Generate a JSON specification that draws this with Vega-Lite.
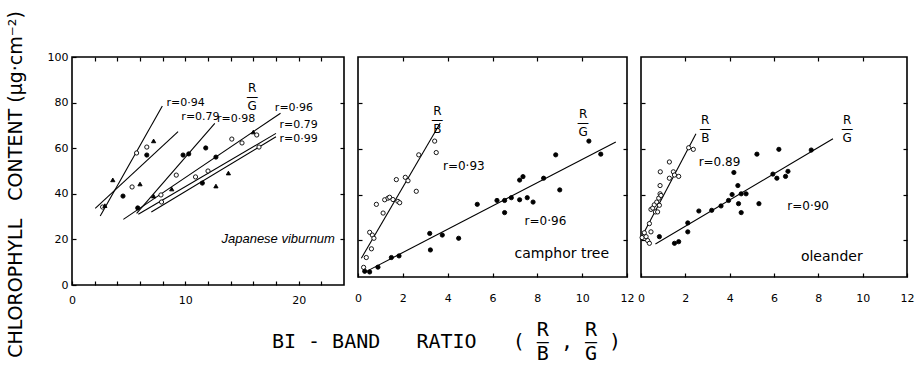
{
  "$schema": "https://vega.github.io/schema/vega-lite/v6.json",
  "background": "white",
  "padding": {"left": 5, "top": 9, "right": 5, "bottom": 2},
  "config": {
    "view": {"stroke": "black", "strokeWidth": 1.6},
    "font": "DejaVu Sans",
    "axis": {"domain": false, "grid": false, "tickColor": "black", "labelColor": "black", "labelFont": "DejaVu Sans", "labelFontSize": 11, "tickSize": -4, "tickWidth": 1.2, "labelPadding": 8, "labelOverlap": false, "labelFlush": false, "titleColor": "black"}
  },
  "spacing": 14,
  "bounds": "flush",
  "datasets": {
    "pts": [
      {"panel": "A", "x": 3.6, "y": 46.1, "m": "tri"},
      {"panel": "A", "x": 2.7, "y": 34.2, "m": "open"},
      {"panel": "A", "x": 2.9, "y": 34.8, "m": "tri"},
      {"panel": "A", "x": 4.5, "y": 39.0, "m": "filled"},
      {"panel": "A", "x": 5.3, "y": 43.0, "m": "open"},
      {"panel": "A", "x": 6.0, "y": 44.3, "m": "tri"},
      {"panel": "A", "x": 5.7, "y": 57.9, "m": "open"},
      {"panel": "A", "x": 6.6, "y": 60.5, "m": "open"},
      {"panel": "A", "x": 6.6, "y": 57.0, "m": "filled"},
      {"panel": "A", "x": 7.2, "y": 63.2, "m": "tri"},
      {"panel": "A", "x": 5.8, "y": 33.8, "m": "filled"},
      {"panel": "A", "x": 7.2, "y": 39.0, "m": "tri"},
      {"panel": "A", "x": 7.85, "y": 39.5, "m": "open"},
      {"panel": "A", "x": 8.8, "y": 42.1, "m": "tri"},
      {"panel": "A", "x": 7.9, "y": 36.4, "m": "open"},
      {"panel": "A", "x": 9.2, "y": 48.2, "m": "open"},
      {"panel": "A", "x": 9.8, "y": 57.0, "m": "filled"},
      {"panel": "A", "x": 10.3, "y": 57.5, "m": "filled"},
      {"panel": "A", "x": 11.8, "y": 60.1, "m": "filled"},
      {"panel": "A", "x": 10.9, "y": 47.4, "m": "open"},
      {"panel": "A", "x": 12.0, "y": 50.0, "m": "open"},
      {"panel": "A", "x": 11.5, "y": 44.7, "m": "filled"},
      {"panel": "A", "x": 12.7, "y": 43.4, "m": "tri"},
      {"panel": "A", "x": 12.7, "y": 56.1, "m": "filled"},
      {"panel": "A", "x": 13.8, "y": 49.1, "m": "tri"},
      {"panel": "A", "x": 14.1, "y": 64.0, "m": "open"},
      {"panel": "A", "x": 15.0, "y": 62.3, "m": "open"},
      {"panel": "A", "x": 16.0, "y": 67.1, "m": "tri"},
      {"panel": "A", "x": 16.3, "y": 65.8, "m": "open"},
      {"panel": "A", "x": 16.5, "y": 60.5, "m": "open"},

      {"panel": "B", "x": 0.25, "y": 8.2, "m": "open"},
      {"panel": "B", "x": 0.37, "y": 12.5, "m": "open"},
      {"panel": "B", "x": 0.6, "y": 16.3, "m": "open"},
      {"panel": "B", "x": 0.52, "y": 23.5, "m": "open"},
      {"panel": "B", "x": 0.64, "y": 22.3, "m": "open"},
      {"panel": "B", "x": 0.71, "y": 20.9, "m": "open"},
      {"panel": "B", "x": 0.82, "y": 35.7, "m": "open"},
      {"panel": "B", "x": 1.12, "y": 31.9, "m": "open"},
      {"panel": "B", "x": 1.19, "y": 37.7, "m": "open"},
      {"panel": "B", "x": 1.34, "y": 38.4, "m": "open"},
      {"panel": "B", "x": 1.41, "y": 38.8, "m": "open"},
      {"panel": "B", "x": 1.56, "y": 37.8, "m": "open"},
      {"panel": "B", "x": 1.71, "y": 46.5, "m": "open"},
      {"panel": "B", "x": 1.78, "y": 37.0, "m": "open"},
      {"panel": "B", "x": 1.86, "y": 36.4, "m": "open"},
      {"panel": "B", "x": 2.11, "y": 47.5, "m": "open"},
      {"panel": "B", "x": 2.23, "y": 46.0, "m": "open"},
      {"panel": "B", "x": 2.6, "y": 41.4, "m": "open"},
      {"panel": "B", "x": 2.71, "y": 57.3, "m": "open"},
      {"panel": "B", "x": 3.42, "y": 63.3, "m": "open"},
      {"panel": "B", "x": 3.49, "y": 58.3, "m": "open"},
      {"panel": "B", "x": 0.3, "y": 6.5, "m": "filled"},
      {"panel": "B", "x": 0.52, "y": 6.2, "m": "filled"},
      {"panel": "B", "x": 0.89, "y": 8.3, "m": "filled"},
      {"panel": "B", "x": 1.49, "y": 12.5, "m": "filled"},
      {"panel": "B", "x": 1.83, "y": 13.2, "m": "filled"},
      {"panel": "B", "x": 3.2, "y": 23.0, "m": "filled"},
      {"panel": "B", "x": 3.23, "y": 15.8, "m": "filled"},
      {"panel": "B", "x": 3.76, "y": 22.3, "m": "filled"},
      {"panel": "B", "x": 4.49, "y": 20.9, "m": "filled"},
      {"panel": "B", "x": 5.32, "y": 35.7, "m": "filled"},
      {"panel": "B", "x": 6.2, "y": 37.4, "m": "filled"},
      {"panel": "B", "x": 6.54, "y": 37.4, "m": "filled"},
      {"panel": "B", "x": 6.54, "y": 32.1, "m": "filled"},
      {"panel": "B", "x": 6.84, "y": 38.6, "m": "filled"},
      {"panel": "B", "x": 7.21, "y": 46.3, "m": "filled"},
      {"panel": "B", "x": 7.36, "y": 47.8, "m": "filled"},
      {"panel": "B", "x": 7.21, "y": 37.7, "m": "filled"},
      {"panel": "B", "x": 7.55, "y": 38.6, "m": "filled"},
      {"panel": "B", "x": 7.81, "y": 36.7, "m": "filled"},
      {"panel": "B", "x": 8.28, "y": 47.1, "m": "filled"},
      {"panel": "B", "x": 8.82, "y": 57.3, "m": "filled"},
      {"panel": "B", "x": 9.0, "y": 42.0, "m": "filled"},
      {"panel": "B", "x": 10.3, "y": 63.3, "m": "filled"},
      {"panel": "B", "x": 10.83, "y": 57.6, "m": "filled"},

      {"panel": "C", "x": 0.05, "y": 21.2, "m": "open"},
      {"panel": "C", "x": 0.15, "y": 23.3, "m": "open"},
      {"panel": "C", "x": 0.23, "y": 21.6, "m": "open"},
      {"panel": "C", "x": 0.3, "y": 19.9, "m": "open"},
      {"panel": "C", "x": 0.38, "y": 18.7, "m": "open"},
      {"panel": "C", "x": 0.45, "y": 23.7, "m": "open"},
      {"panel": "C", "x": 0.38, "y": 27.3, "m": "open"},
      {"panel": "C", "x": 0.45, "y": 33.5, "m": "open"},
      {"panel": "C", "x": 0.53, "y": 34.1, "m": "open"},
      {"panel": "C", "x": 0.6, "y": 35.5, "m": "open"},
      {"panel": "C", "x": 0.65, "y": 32.4, "m": "open"},
      {"panel": "C", "x": 0.71, "y": 36.7, "m": "open"},
      {"panel": "C", "x": 0.8, "y": 38.4, "m": "open"},
      {"panel": "C", "x": 0.86, "y": 40.3, "m": "open"},
      {"panel": "C", "x": 0.75, "y": 32.4, "m": "open"},
      {"panel": "C", "x": 0.83, "y": 35.3, "m": "open"},
      {"panel": "C", "x": 0.9, "y": 39.6, "m": "open"},
      {"panel": "C", "x": 0.86, "y": 43.9, "m": "open"},
      {"panel": "C", "x": 0.87, "y": 49.9, "m": "open"},
      {"panel": "C", "x": 1.28, "y": 54.2, "m": "open"},
      {"panel": "C", "x": 1.28, "y": 47.1, "m": "open"},
      {"panel": "C", "x": 1.46, "y": 49.9, "m": "open"},
      {"panel": "C", "x": 1.51, "y": 48.5, "m": "open"},
      {"panel": "C", "x": 1.7, "y": 47.9, "m": "open"},
      {"panel": "C", "x": 2.15, "y": 60.4, "m": "open"},
      {"panel": "C", "x": 2.36, "y": 59.7, "m": "open"},
      {"panel": "C", "x": 0.83, "y": 21.6, "m": "filled"},
      {"panel": "C", "x": 1.51, "y": 18.7, "m": "filled"},
      {"panel": "C", "x": 1.7, "y": 19.4, "m": "filled"},
      {"panel": "C", "x": 2.11, "y": 23.7, "m": "filled"},
      {"panel": "C", "x": 2.11, "y": 27.6, "m": "filled"},
      {"panel": "C", "x": 2.61, "y": 32.8, "m": "filled"},
      {"panel": "C", "x": 3.19, "y": 33.1, "m": "filled"},
      {"panel": "C", "x": 3.61, "y": 35.0, "m": "filled"},
      {"panel": "C", "x": 3.95, "y": 37.4, "m": "filled"},
      {"panel": "C", "x": 4.11, "y": 40.0, "m": "filled"},
      {"panel": "C", "x": 4.19, "y": 49.6, "m": "filled"},
      {"panel": "C", "x": 4.37, "y": 43.9, "m": "filled"},
      {"panel": "C", "x": 4.4, "y": 36.0, "m": "filled"},
      {"panel": "C", "x": 4.52, "y": 32.1, "m": "filled"},
      {"panel": "C", "x": 4.52, "y": 40.3, "m": "filled"},
      {"panel": "C", "x": 4.74, "y": 40.3, "m": "filled"},
      {"panel": "C", "x": 5.23, "y": 57.6, "m": "filled"},
      {"panel": "C", "x": 5.32, "y": 36.0, "m": "filled"},
      {"panel": "C", "x": 5.95, "y": 48.9, "m": "filled"},
      {"panel": "C", "x": 6.13, "y": 47.1, "m": "filled"},
      {"panel": "C", "x": 6.22, "y": 59.7, "m": "filled"},
      {"panel": "C", "x": 6.52, "y": 47.9, "m": "filled"},
      {"panel": "C", "x": 6.63, "y": 50.1, "m": "filled"},
      {"panel": "C", "x": 7.68, "y": 59.4, "m": "filled"}
    ],
    "lines": [
      {"panel": "A", "x1": 2.49, "y1": 30.3, "x2": 7.97, "y2": 78.5},
      {"panel": "A", "x1": 2.05, "y1": 33.6, "x2": 9.36, "y2": 67.3},
      {"panel": "A", "x1": 5.7, "y1": 31.4, "x2": 12.6, "y2": 70.9},
      {"panel": "A", "x1": 4.53, "y1": 28.8, "x2": 18.4, "y2": 75.3},
      {"panel": "A", "x1": 5.85, "y1": 31.0, "x2": 18.0, "y2": 66.5},
      {"panel": "A", "x1": 7.0, "y1": 32.0, "x2": 18.0, "y2": 65.0},
      {"panel": "B", "x1": 0.15, "y1": 12.2, "x2": 3.67, "y2": 71.2},
      {"panel": "B", "x1": 0.25, "y1": 5.8, "x2": 11.5, "y2": 62.9},
      {"panel": "C", "x1": 0.0, "y1": 20.9, "x2": 2.48, "y2": 66.5},
      {"panel": "C", "x1": 0.65, "y1": 18.4, "x2": 8.66, "y2": 64.3}
    ],
    "rlab": [
      {"panel": "A", "x": 8.33, "y": 79.7, "t": "r=0·94"},
      {"panel": "A", "x": 9.65, "y": 73.8, "t": "r=0.79"},
      {"panel": "A", "x": 12.8, "y": 72.7, "t": "r=0·98"},
      {"panel": "A", "x": 17.9, "y": 77.5, "t": "r=0·96"},
      {"panel": "A", "x": 18.3, "y": 70.2, "t": "r=0.79"},
      {"panel": "A", "x": 18.3, "y": 63.9, "t": "r=0·99"},
      {"panel": "B", "x": 3.79, "y": 52.5, "t": "r=0·93"},
      {"panel": "B", "x": 7.43, "y": 28.3, "t": "r=0·96"},
      {"panel": "C", "x": 2.6, "y": 54.2, "t": "r=0.89"},
      {"panel": "C", "x": 6.6, "y": 35.0, "t": "r=0·90"}
    ],
    "frac": [
      {"panel": "A", "x": 15.9, "y": 86.3, "t": ["R", "—", "G"]},
      {"panel": "B", "x": 3.54, "y": 76.3, "t": ["R", "—", "B"]},
      {"panel": "B", "x": 10.04, "y": 75.3, "t": ["R", "—", "G"]},
      {"panel": "C", "x": 2.9, "y": 72.7, "t": ["R", "—", "B"]},
      {"panel": "C", "x": 9.3, "y": 72.7, "t": ["R", "—", "G"]}
    ],
    "names": [
      {"panel": "A", "x": 23.2, "y": 20.0, "t": "Japanese viburnum"},
      {"panel": "B", "x": 11.2, "y": 14.0, "t": "camphor tree"},
      {"panel": "C", "x": 10.0, "y": 12.9, "t": "oleander"}
    ]
  },
  "hconcat": [
    {
      "width": 272, "height": 228,
      "resolve": {"axis": {"x": "independent", "y": "independent"}},
      "layer": [
        {
          "data": {"name": "lines"}, "transform": [{"filter": "datum.panel === 'A'"}],
          "mark": {"type": "rule", "color": "black", "strokeWidth": 1.1},
          "encoding": {
            "x": {"field": "x1", "type": "quantitative", "scale": {"domain": [0, 24], "nice": false, "zero": false}, "axis": {"orient": "top", "labels": false, "title": null, "values": [2,4,6,8,10,12,14,16,18,20,22]}},
            "y": {"field": "y1", "type": "quantitative", "scale": {"domain": [0, 100], "nice": false, "zero": false}, "axis": {"orient": "right", "labels": false, "title": null, "values": [20,40,60,80]}},
            "x2": {"field": "x2"}, "y2": {"field": "y2"}
          }
        },
        {
          "data": {"name": "pts"}, "transform": [{"filter": "datum.panel === 'A'"}],
          "mark": {"type": "point", "filled": true, "size": 18, "stroke": "black", "strokeWidth": 0.9, "opacity": 1},
          "encoding": {
            "x": {"field": "x", "type": "quantitative", "scale": {"domain": [0, 24], "nice": false, "zero": false}, "axis": {"orient": "bottom", "title": null, "labelPadding": 13, "values": [0,2,4,6,8,10,12,14,16,18,20,22], "labelExpr": "datum.value % 10 === 0 ? datum.label : ''"}},
            "y": {"field": "y", "type": "quantitative", "scale": {"domain": [0, 100], "nice": false, "zero": false}, "axis": {"orient": "left", "values": [0,20,40,60,80,100], "title": "CHLOROPHYLL\u00a0\u00a0\u00a0CONTENT\u00a0(μg·cm⁻²)", "titleFontSize": 19, "titleFont": "DejaVu Sans", "titleFontWeight": "normal", "titlePadding": 22, "titleY": 127}},
            "shape": {"field": "m", "type": "nominal", "scale": {"domain": ["open", "filled", "tri"], "range": ["circle", "circle", "triangle-up"]}, "legend": null},
            "fill": {"field": "m", "type": "nominal", "scale": {"domain": ["open", "filled", "tri"], "range": ["white", "black", "black"]}, "legend": null}
          }
        },
        {
          "data": {"name": "rlab"}, "transform": [{"filter": "datum.panel === 'A'"}],
          "mark": {"type": "text", "align": "left", "baseline": "middle", "fontSize": 11, "font": "DejaVu Sans", "color": "black"},
          "encoding": {
            "x": {"field": "x", "type": "quantitative", "axis": null},
            "y": {"field": "y", "type": "quantitative", "axis": null},
            "text": {"field": "t"}
          }
        },
        {
          "data": {"name": "frac"}, "transform": [{"filter": "datum.panel === 'A'"}],
          "mark": {"type": "text", "align": "center", "baseline": "middle", "fontSize": 12, "lineHeight": 9, "font": "DejaVu Sans", "color": "black"},
          "encoding": {
            "x": {"field": "x", "type": "quantitative", "axis": null},
            "y": {"field": "y", "type": "quantitative", "axis": null},
            "text": {"field": "t"}
          }
        },
        {
          "data": {"name": "names"}, "transform": [{"filter": "datum.panel === 'A'"}],
          "mark": {"type": "text", "align": "right", "baseline": "middle", "fontSize": 13, "font": "Liberation Sans", "fontStyle": "italic", "color": "black"},
          "encoding": {
            "x": {"field": "x", "type": "quantitative", "axis": null},
            "y": {"field": "y", "type": "quantitative", "axis": null},
            "text": {"field": "t"}
          }
        }
      ]
    },
    {
      "width": 269, "height": 220,
      "resolve": {"axis": {"x": "independent", "y": "independent"}},
      "layer": [
        {
          "data": {"name": "lines"}, "transform": [{"filter": "datum.panel === 'B'"}],
          "mark": {"type": "rule", "color": "black", "strokeWidth": 1.1},
          "encoding": {
            "x": {"field": "x1", "type": "quantitative", "scale": {"domain": [0, 12], "nice": false, "zero": false}, "axis": {"orient": "top", "labels": false, "title": null, "values": [2,4,6,8,10]}},
            "y": {"field": "y1", "type": "quantitative", "scale": {"domain": [4, 100], "nice": false, "zero": false}, "axis": {"orient": "right", "labels": false, "title": null, "values": [20,40,60,80]}},
            "x2": {"field": "x2"}, "y2": {"field": "y2"}
          }
        },
        {
          "data": {"name": "pts"}, "transform": [{"filter": "datum.panel === 'B'"}],
          "mark": {"type": "point", "filled": true, "size": 18, "stroke": "black", "strokeWidth": 0.9, "opacity": 1},
          "encoding": {
            "x": {"field": "x", "type": "quantitative", "scale": {"domain": [0, 12], "nice": false, "zero": false}, "axis": {"orient": "bottom", "labelPadding": 19, "values": [0,2,4,6,8,10,12], "title": ["\u200b\u00a0\u00a0\u00a0\u00a0\u00a0\u00a0\u00a0\u00a0\u00a0\u00a0\u00a0\u00a0\u00a0\u00a0\u00a0\u00a0\u00a0\u00a0\u00a0\u00a0\u00a0\u00a0R\u00a0\u00a0\u00a0R\u00a0\u00a0\u200b", "BI\u00a0-\u00a0BAND\u00a0\u00a0\u00a0RATIO\u00a0\u00a0\u00a0(\u00a0—\u00a0,\u00a0—\u00a0)", "\u200b\u00a0\u00a0\u00a0\u00a0\u00a0\u00a0\u00a0\u00a0\u00a0\u00a0\u00a0\u00a0\u00a0\u00a0\u00a0\u00a0\u00a0\u00a0\u00a0\u00a0\u00a0\u00a0B\u00a0\u00a0\u00a0G\u00a0\u00a0\u200b"], "titleFont": "DejaVu Sans Mono", "titleFontSize": 20, "titleFontWeight": "normal", "titleLineHeight": 12, "titleAlign": "center", "titleBaseline": "middle", "titleX": 88, "titleY": 52}},
            "y": {"field": "y", "type": "quantitative", "scale": {"domain": [4, 100], "nice": false, "zero": false}, "axis": {"orient": "left", "labels": false, "title": null, "values": [20,40,60,80]}},
            "shape": {"field": "m", "type": "nominal", "scale": {"domain": ["open", "filled", "tri"], "range": ["circle", "circle", "triangle-up"]}, "legend": null},
            "fill": {"field": "m", "type": "nominal", "scale": {"domain": ["open", "filled", "tri"], "range": ["white", "black", "black"]}, "legend": null}
          }
        },
        {
          "data": {"name": "rlab"}, "transform": [{"filter": "datum.panel === 'B'"}],
          "mark": {"type": "text", "align": "left", "baseline": "middle", "fontSize": 12, "font": "DejaVu Sans", "color": "black"},
          "encoding": {
            "x": {"field": "x", "type": "quantitative", "axis": null},
            "y": {"field": "y", "type": "quantitative", "axis": null},
            "text": {"field": "t"}
          }
        },
        {
          "data": {"name": "frac"}, "transform": [{"filter": "datum.panel === 'B'"}],
          "mark": {"type": "text", "align": "center", "baseline": "middle", "fontSize": 12, "lineHeight": 9, "font": "DejaVu Sans", "color": "black"},
          "encoding": {
            "x": {"field": "x", "type": "quantitative", "axis": null},
            "y": {"field": "y", "type": "quantitative", "axis": null},
            "text": {"field": "t"}
          }
        },
        {
          "data": {"name": "names"}, "transform": [{"filter": "datum.panel === 'B'"}],
          "mark": {"type": "text", "align": "right", "baseline": "middle", "fontSize": 14, "font": "DejaVu Sans", "color": "black"},
          "encoding": {
            "x": {"field": "x", "type": "quantitative", "axis": null},
            "y": {"field": "y", "type": "quantitative", "axis": null},
            "text": {"field": "t"}
          }
        }
      ]
    },
    {
      "width": 266, "height": 220,
      "resolve": {"axis": {"x": "independent", "y": "independent"}},
      "layer": [
        {
          "data": {"name": "lines"}, "transform": [{"filter": "datum.panel === 'C'"}],
          "mark": {"type": "rule", "color": "black", "strokeWidth": 1.1},
          "encoding": {
            "x": {"field": "x1", "type": "quantitative", "scale": {"domain": [0, 12], "nice": false, "zero": false}, "axis": {"orient": "top", "labels": false, "title": null, "values": [2,4,6,8,10]}},
            "y": {"field": "y1", "type": "quantitative", "scale": {"domain": [4, 100], "nice": false, "zero": false}, "axis": {"orient": "right", "labels": false, "title": null, "values": [20,40,60,80]}},
            "x2": {"field": "x2"}, "y2": {"field": "y2"}
          }
        },
        {
          "data": {"name": "pts"}, "transform": [{"filter": "datum.panel === 'C'"}],
          "mark": {"type": "point", "filled": true, "size": 18, "stroke": "black", "strokeWidth": 0.9, "opacity": 1},
          "encoding": {
            "x": {"field": "x", "type": "quantitative", "scale": {"domain": [0, 12], "nice": false, "zero": false}, "axis": {"orient": "bottom", "title": null, "labelPadding": 19, "values": [0,2,4,6,8,10,12]}},
            "y": {"field": "y", "type": "quantitative", "scale": {"domain": [4, 100], "nice": false, "zero": false}, "axis": {"orient": "left", "labels": false, "title": null, "values": [20,40,60,80]}},
            "shape": {"field": "m", "type": "nominal", "scale": {"domain": ["open", "filled", "tri"], "range": ["circle", "circle", "triangle-up"]}, "legend": null},
            "fill": {"field": "m", "type": "nominal", "scale": {"domain": ["open", "filled", "tri"], "range": ["white", "black", "black"]}, "legend": null}
          }
        },
        {
          "data": {"name": "rlab"}, "transform": [{"filter": "datum.panel === 'C'"}],
          "mark": {"type": "text", "align": "left", "baseline": "middle", "fontSize": 12, "font": "DejaVu Sans", "color": "black"},
          "encoding": {
            "x": {"field": "x", "type": "quantitative", "axis": null},
            "y": {"field": "y", "type": "quantitative", "axis": null},
            "text": {"field": "t"}
          }
        },
        {
          "data": {"name": "frac"}, "transform": [{"filter": "datum.panel === 'C'"}],
          "mark": {"type": "text", "align": "center", "baseline": "middle", "fontSize": 12, "lineHeight": 9, "font": "DejaVu Sans", "color": "black"},
          "encoding": {
            "x": {"field": "x", "type": "quantitative", "axis": null},
            "y": {"field": "y", "type": "quantitative", "axis": null},
            "text": {"field": "t"}
          }
        },
        {
          "data": {"name": "names"}, "transform": [{"filter": "datum.panel === 'C'"}],
          "mark": {"type": "text", "align": "right", "baseline": "middle", "fontSize": 14, "font": "DejaVu Sans", "color": "black"},
          "encoding": {
            "x": {"field": "x", "type": "quantitative", "axis": null},
            "y": {"field": "y", "type": "quantitative", "axis": null},
            "text": {"field": "t"}
          }
        }
      ]
    }
  ]
}
